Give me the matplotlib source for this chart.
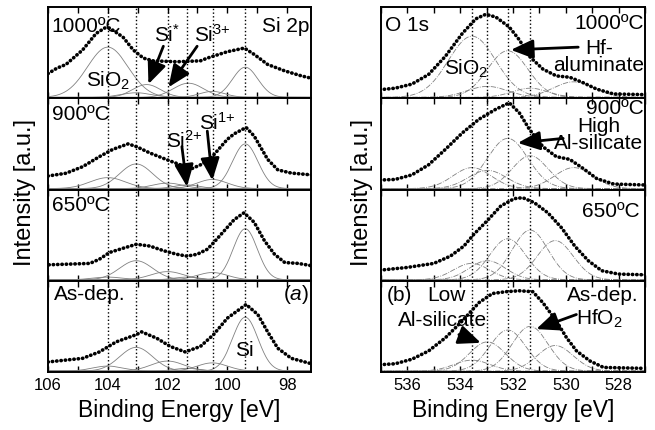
import matplotlib.pyplot as plt
import numpy as np
from matplotlib.ticker import MultipleLocator

plt.rcParams['font.family'] = ['Liberation Sans', 'DejaVu Sans']
plt.rcParams['mathtext.fontset'] = 'custom'
plt.rcParams['mathtext.rm'] = 'Liberation Sans'
plt.rcParams['mathtext.it'] = 'Liberation Sans:italic'
plt.rcParams['mathtext.bf'] = 'Liberation Sans:bold'

# ---------------- Si 2p (left panel) ----------------
si_lines = [104.0, 103.05, 102.0, 101.35, 100.48, 99.41]

si_1000_e = [106.0, 105.7, 105.4, 104.84, 104.39, 104.1, 103.94, 103.49, 103.15, 102.81, 102.48,
             101.69, 100.9, 100.67, 100.0, 99.43, 99.1, 98.65, 98.08, 97.52, 97.2]
si_1000_y = [0.27, 0.33, 0.37, 0.53, 0.71, 0.77, 0.77, 0.67, 0.53, 0.44, 0.41,
             0.40, 0.41, 0.44, 0.51, 0.55, 0.48, 0.37, 0.30, 0.245, 0.22]
si_900_e = [106.0, 105.4, 104.84, 104.28, 103.83, 103.32, 103.04, 102.59, 102.02, 101.57, 101.18,
            100.9, 100.56, 100.0, 99.77, 99.37, 99.1, 98.65, 98.31, 97.86, 97.18]
si_900_y = [0.148, 0.178, 0.25, 0.36, 0.44, 0.50, 0.47, 0.40, 0.326, 0.27, 0.23,
            0.27, 0.34, 0.55, 0.61, 0.68, 0.585, 0.33, 0.215, 0.18, 0.16]
si_650_e = [105.97, 104.6, 104.28, 103.94, 103.49, 103.04, 102.59, 102.14, 101.69, 101.35, 101.01,
            100.67, 100.45, 100.11, 99.77, 99.44, 99.1, 98.76, 98.42, 98.08, 97.63, 97.18]
si_650_y = [0.175, 0.19, 0.236, 0.31, 0.356, 0.40, 0.38, 0.33, 0.29, 0.27, 0.29,
            0.345, 0.42, 0.545, 0.67, 0.745, 0.64, 0.44, 0.29, 0.20, 0.19, 0.165]
si_asdep_e = [106.0, 104.84, 104.28, 103.72, 103.04, 102.87, 102.36, 101.91, 101.41, 100.9,
              100.46, 100.0, 99.37, 98.98, 98.65, 98.31, 97.86, 97.18]
si_asdep_y = [0.11, 0.15, 0.22, 0.33, 0.41, 0.44, 0.37, 0.28, 0.22, 0.28,
              0.41, 0.59, 0.74, 0.63, 0.44, 0.26, 0.15, 0.09]

# fitted components: (centre eV, height, FWHM eV)
si_1000_peaks = [(104.0, 0.55, 1.6), (103.05, 0.05, 1.2), (102.7, 0.14, 1.1),
                 (101.3, 0.155, 1.2), (100.5, 0.065, 1.0), (99.4, 0.33, 1.0)]
si_900_peaks = [(104.0, 0.12, 1.4), (103.05, 0.27, 1.3), (102.0, 0.06, 1.2),
                (101.35, 0.04, 1.0), (100.5, 0.10, 1.2), (99.4, 0.49, 1.0)]
si_650_peaks = [(104.0, 0.03, 1.2), (103.05, 0.21, 1.3), (102.0, 0.09, 1.3),
                (101.35, 0.03, 1.0), (100.5, 0.08, 1.2), (99.4, 0.56, 0.95)]
si_asdep_peaks = [(104.0, 0.055, 1.2), (103.05, 0.26, 1.3), (102.0, 0.11, 1.3),
                  (101.35, 0.03, 1.0), (100.5, 0.09, 1.2), (99.4, 0.59, 1.0)]

# ---------------- O 1s (right panel) ----------------
o_lines = [533.57, 532.97, 532.2, 531.35]

o_1000_e = [537.04, 536.47, 535.83, 535.2, 534.56, 533.92, 533.41, 533.03, 532.65, 532.14,
            531.76, 531.38, 530.87, 530.36, 529.85, 529.34, 528.83, 528.19, 527.04]
o_1000_y = [0.094, 0.11, 0.155, 0.26, 0.46, 0.71, 0.87, 0.92, 0.89, 0.78,
            0.64, 0.46, 0.32, 0.245, 0.23, 0.17, 0.10, 0.047, 0.04]
o_900_e = [537.04, 536.47, 535.83, 535.2, 534.56, 533.92, 533.29, 532.65, 532.14,
           531.76, 531.38, 530.87, 530.36, 529.85, 529.34, 528.83, 528.19, 527.04]
o_900_y = [0.104, 0.11, 0.16, 0.27, 0.44, 0.62, 0.77, 0.88, 0.95,
           0.84, 0.66, 0.47, 0.36, 0.33, 0.23, 0.12, 0.06, 0.05]
o_650_e = [537.04, 536.03, 535.0, 534.37, 533.86, 533.48, 532.97, 532.46, 531.95,
           531.63, 531.19, 530.68, 530.16, 529.66, 529.15, 528.64, 528.0, 526.98]
o_650_y = [0.116, 0.145, 0.19, 0.27, 0.38, 0.51, 0.66, 0.82, 0.90,
           0.91, 0.855, 0.745, 0.58, 0.38, 0.22, 0.11, 0.073, 0.065]
o_asdep_e = [537.04, 536.47, 535.83, 535.2, 534.56, 533.92, 533.29, 532.78, 532.27,
             531.76, 531.25, 530.87, 530.36, 529.97, 529.59, 529.08, 528.57, 527.04]
o_asdep_y = [0.08, 0.09, 0.14, 0.23, 0.375, 0.56, 0.76, 0.86, 0.88,
             0.89, 0.88, 0.76, 0.56, 0.375, 0.23, 0.12, 0.05, 0.04]

o_1000_peaks = [(533.55, 0.67, 2.1), (532.97, 0.12, 1.8), (532.2, 0.51, 1.8),
                (531.35, 0.10, 1.6), (529.7, 0.17, 1.8)]
o_900_peaks = [(533.55, 0.23, 1.7), (532.97, 0.20, 1.7), (532.2, 0.55, 1.8),
               (531.35, 0.36, 1.6), (529.7, 0.23, 1.7)]
o_650_peaks = [(533.57, 0.18, 1.6), (532.97, 0.21, 1.6), (532.2, 0.45, 1.6),
               (531.35, 0.545, 1.6), (530.4, 0.43, 1.6)]
o_asdep_peaks = [(533.55, 0.12, 1.6), (532.97, 0.32, 1.6), (532.2, 0.45, 1.6),
                 (531.35, 0.49, 1.6), (530.4, 0.28, 1.6)]


def draw(ax, e, y, peaks, lines, xlim, comp_ls):
    ax.set_xlim(*xlim)
    ax.set_ylim(0, 1)
    xx = np.linspace(min(xlim), max(xlim), 500)
    for c, h, w in peaks:
        ax.plot(xx, 0.01 + h * np.exp(-4 * np.log(2) * (xx - c) ** 2 / w ** 2),
                color='0.5', lw=0.6, ls=comp_ls)
    for v in lines:
        ax.axvline(v, color='k', ls=':', lw=1.0)
    ax.plot(e, y, color='k', lw=2.6, ls=(0, (0.1, 1.1)), dash_capstyle='round')
    ax.set_yticks([])
    ax.xaxis.set_major_locator(MultipleLocator(2))
    ax.xaxis.set_minor_locator(MultipleLocator(1))
    ax.tick_params(axis='x', which='both', direction='in', top=True, bottom=True,
                   length=4, width=1, labelsize=12, pad=4)
    for s in ax.spines.values():
        s.set_linewidth(1.4)


def arrow(ax, tail, head):
    ax.annotate('', xy=head, xytext=tail,
                arrowprops=dict(arrowstyle='-|>,head_length=0.75,head_width=0.32',
                                color='k', lw=2.0, mutation_scale=18,
                                shrinkA=0, shrinkB=0))


fig = plt.figure(figsize=(6.55, 4.3), dpi=100)
W, H = 655.0, 430.0
top_px, row_px = 7.0, 91.25

si_data = [(si_1000_e, si_1000_y, si_1000_peaks), (si_900_e, si_900_y, si_900_peaks),
           (si_650_e, si_650_y, si_650_peaks), (si_asdep_e, si_asdep_y, si_asdep_peaks)]
o_data = [(o_1000_e, o_1000_y, o_1000_peaks), (o_900_e, o_900_y, o_900_peaks),
          (o_650_e, o_650_y, o_650_peaks), (o_asdep_e, o_asdep_y, o_asdep_peaks)]

axl, axr = [], []
for i in range(4):
    y0 = 1 - (top_px + row_px * (i + 1)) / H
    a = fig.add_axes([48 / W, y0, 263 / W, row_px / H])
    draw(a, *si_data[i], si_lines, (106, 97.2), '-')
    b = fig.add_axes([381 / W, y0, 264 / W, row_px / H])
    draw(b, *o_data[i], o_lines, (537, 527), '-.')
    if i < 3:
        a.tick_params(labelbottom=False)
        b.tick_params(labelbottom=False)
    axl.append(a)
    axr.append(b)

fs = 15
# --- left panel labels
a = axl[0]
a.text(105.9, 0.79, '1000ºC', fontsize=fs, va='center', ha='left')
a.text(97.25, 0.79, 'Si 2p', fontsize=fs, va='center', ha='right')
a.text(104.73, 0.19, r'SiO$_2$', fontsize=fs, va='center', ha='left')
a.text(102.0, 0.70, r'Si$^{*}$', fontsize=fs, va='center', ha='center')
a.text(100.5, 0.70, r'Si$^{3{+}}$', fontsize=fs, va='center', ha='center')
arrow(a, (102.14, 0.57), (102.64, 0.155))
arrow(a, (101.01, 0.57), (101.97, 0.12))

a = axl[1]
a.text(105.85, 0.82, '900ºC', fontsize=fs, va='center', ha='left')
a.text(101.45, 0.53, r'Si$^{2{+}}$', fontsize=fs, va='center', ha='center')
a.text(100.34, 0.73, r'Si$^{1{+}}$', fontsize=fs, va='center', ha='center')
arrow(a, (101.52, 0.47), (101.35, 0.03))
arrow(a, (100.67, 0.64), (100.5, 0.10))

a = axl[2]
a.text(105.85, 0.83, '650ºC', fontsize=fs, va='center', ha='left')

a = axl[3]
a.text(105.8, 0.85, 'As-dep.', fontsize=fs, va='center', ha='left')
a.text(97.25, 0.85, r'($a$)', fontsize=fs, va='center', ha='right')
a.text(99.43, 0.24, 'Si', fontsize=fs, va='center', ha='center')

# --- right panel labels
b = axr[0]
b.text(536.85, 0.80, 'O 1s', fontsize=fs, va='center', ha='left')
b.text(527.05, 0.82, '1000ºC', fontsize=fs, va='center', ha='right')
b.text(528.75, 0.45, 'Hf-\naluminate', fontsize=fs, va='center', ha='center',
       multialignment='center', linespacing=0.85)
b.text(534.62, 0.32, r'SiO$_2$', fontsize=fs, va='center', ha='left')
arrow(b, (529.53, 0.56), (532.08, 0.53))

b = axr[1]
b.text(527.05, 0.89, '900ºC', fontsize=fs, va='center', ha='right')
b.text(528.75, 0.60, 'High\nAl-silicate', fontsize=fs, va='center', ha='center',
       multialignment='center', linespacing=0.85)
arrow(b, (530.1, 0.56), (531.82, 0.51))

b = axr[2]
b.text(527.2, 0.76, '650ºC', fontsize=fs, va='center', ha='right')

b = axr[3]
b.text(536.8, 0.84, '(b)', fontsize=fs, va='center', ha='left')
b.text(535.26, 0.84, 'Low', fontsize=fs, va='center', ha='left')
b.text(536.34, 0.56, 'Al-silicate', fontsize=fs, va='center', ha='left')
b.text(527.24, 0.84, 'As-dep.', fontsize=fs, va='center', ha='right')
b.text(529.6, 0.58, r'HfO$_2$', fontsize=fs, va='center', ha='left')
arrow(b, (534.05, 0.41), (533.22, 0.32))
arrow(b, (529.6, 0.63), (531.12, 0.47))

# axis titles
fig.text(25 / W, 1 - 192 / H, 'Intensity [a.u.]', rotation=90, fontsize=17,
         ha='center', va='center')
fig.text(362 / W, 1 - 192 / H, 'Intensity [a.u.]', rotation=90, fontsize=17,
         ha='center', va='center')
fig.text(179.5 / W, 1 - 411 / H, 'Binding Energy [eV]', fontsize=16.5, ha='center', va='center')
fig.text(513 / W, 1 - 411 / H, 'Binding Energy [eV]', fontsize=16.5, ha='center', va='center')

plt.savefig('out.png', dpi=100)
